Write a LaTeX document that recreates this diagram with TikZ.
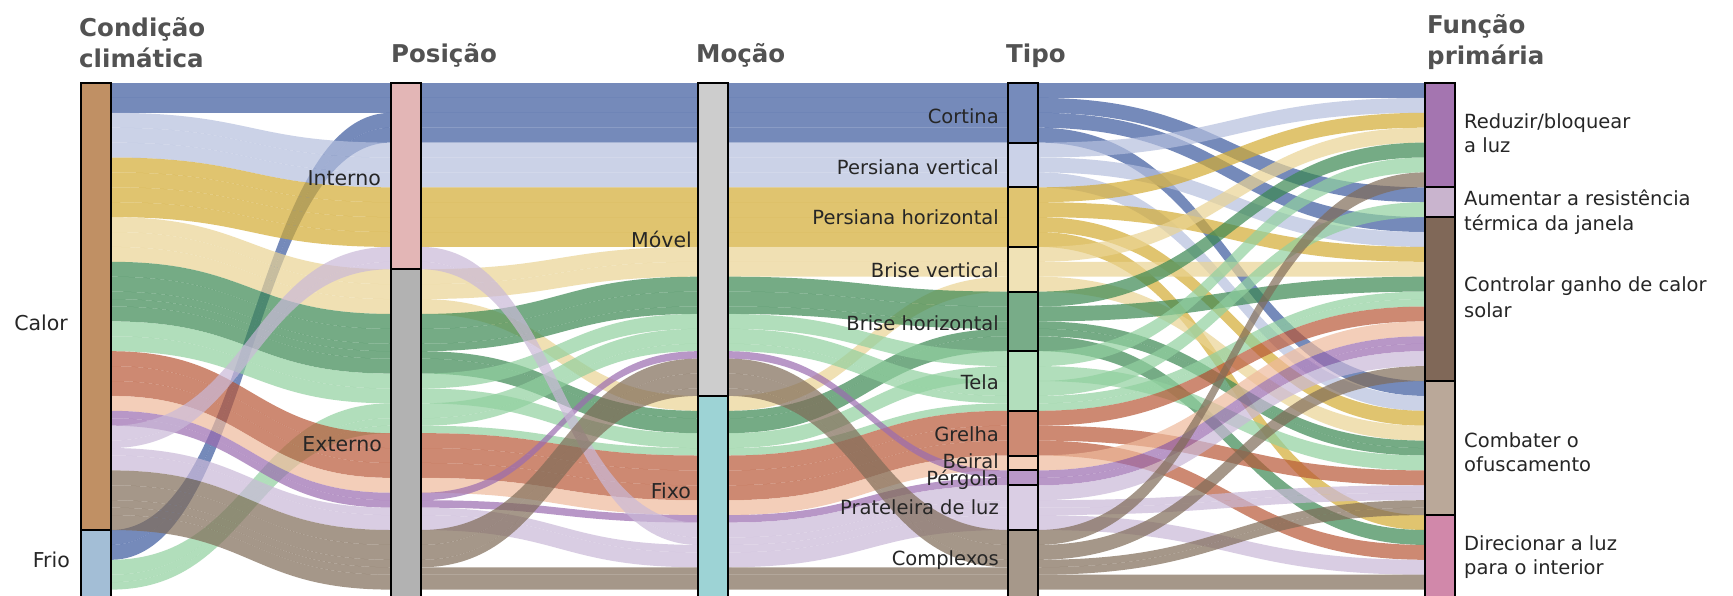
\documentclass[tikz,border=0pt]{standalone}
\usepackage{fontspec}
\setmainfont{DejaVu Sans}
% flow colours (drawn at opacity 0.7)
\definecolor{t1}{RGB}{59,89,158}
\definecolor{t2}{RGB}{181,191,222}
\definecolor{t3}{RGB}{211,171,51}
\definecolor{t4}{RGB}{234,212,148}
\definecolor{t5}{RGB}{59,136,82}
\definecolor{t6}{RGB}{145,208,159}
\definecolor{t7}{RGB}{184,88,55}
\definecolor{t8}{RGB}{239,186,156}
\definecolor{t9}{RGB}{155,108,176}
\definecolor{t10}{RGB}{202,185,216}
\definecolor{t11}{RGB}{128,108,88}
% bar colours
\definecolor{b1}{RGB}{118,139,187}
\definecolor{b2}{RGB}{203,210,232}
\definecolor{b3}{RGB}{224,196,112}
\definecolor{b4}{RGB}{240,226,182}
\definecolor{b5}{RGB}{120,172,136}
\definecolor{b6}{RGB}{178,222,188}
\definecolor{b7}{RGB}{205,138,115}
\definecolor{b8}{RGB}{244,207,186}
\definecolor{b9}{RGB}{185,152,200}
\definecolor{b10}{RGB}{218,206,228}
\definecolor{b11}{RGB}{166,152,138}
\definecolor{cCalor}{RGB}{192,144,100}
\definecolor{cFrio}{RGB}{163,190,214}
\definecolor{cInterno}{RGB}{227,182,182}
\definecolor{cExterno}{RGB}{178,178,178}
\definecolor{cMovel}{RGB}{205,205,205}
\definecolor{cFixo}{RGB}{157,211,213}
\definecolor{cReduzir}{RGB}{164,117,176}
\definecolor{cAumentar}{RGB}{201,180,206}
\definecolor{cControlar}{RGB}{128,104,88}
\definecolor{cCombater}{RGB}{186,168,153}
\definecolor{cDirecionar}{RGB}{209,136,170}
\definecolor{txt}{RGB}{38,38,38}
\definecolor{ttlc}{RGB}{82,82,82}

\newcommand\myU{14.9}
\newcommand\myT{83}
\newcommand\initoff[3]{\expandafter\xdef\csname off@#1@#2\endcsname{#3}}
\initoff{1}{1}{0}\initoff{1}{2}{30}
\initoff{2}{1}{0}\initoff{2}{2}{12.5}
\initoff{3}{1}{0}\initoff{3}{2}{21}
\initoff{4}{1}{0}\initoff{4}{2}{4}\initoff{4}{3}{7}\initoff{4}{4}{11}
\initoff{4}{5}{14}\initoff{4}{6}{18}\initoff{4}{7}{22}\initoff{4}{8}{25}
\initoff{4}{9}{26}\initoff{4}{10}{27}\initoff{4}{11}{30}
\initoff{5}{1}{0}\initoff{5}{2}{7}\initoff{5}{3}{9}\initoff{5}{4}{20}\initoff{5}{5}{29}

\newcommand\getpos[4]{%
  \edef\mycur{\csname off@#1@#2\endcsname}%
  \pgfmathsetmacro\mynew{\mycur+#3}%
  \expandafter\xdef\csname off@#1@#2\endcsname{\mynew}%
  \pgfmathsetmacro#4{\myT+\myU*\mycur}%
}
\newcommand\ribbon[6]{%
  \pgfmathsetmacro\myxm{(#1+#3)/2}%
  \pgfmathsetmacro\myyb{#2+#5}%
  \pgfmathsetmacro\myyd{#4+#5}%
  \fill[flow, fill=#6] (#1,#2) .. controls (\myxm,#2) and (\myxm,#4) .. (#3,#4)
    -- (#3,\myyd) .. controls (\myxm,\myyd) and (\myxm,\myyb) .. (#1,\myyb) -- cycle;
}
\newcommand\rec[6]{%
  \getpos{1}{#2}{#1}\pya
  \getpos{2}{#3}{#1}\pyb
  \getpos{3}{#4}{#1}\pyc
  \getpos{4}{#5}{#1}\pyd
  \getpos{5}{#6}{#1}\pye
  \pgfmathsetmacro\myh{#1*\myU}%
  \ribbon{111}{\pya}{391}{\pyb}{\myh}{t#5}%
  \ribbon{421}{\pyb}{698}{\pyc}{\myh}{t#5}%
  \ribbon{728}{\pyc}{1008}{\pyd}{\myh}{t#5}%
  \ribbon{1038}{\pyd}{1425}{\pye}{\myh}{t#5}%
}
\newcommand\barnode[5]{%
  \node[bar, fill=#5, minimum height={#4*\myU*1pt}] (#1) at (#2,{\myT+#3*\myU}) {};%
}

\begin{document}
\begin{tikzpicture}[x=1pt,y=-1pt,
  flow/.style={fill opacity=0.7},
  bar/.style={draw=black, line width=2pt, inner sep=0pt, outer sep=0pt,
    minimum width=30pt, anchor=north west},
  lblA/.style={font=\fontsize{20.5}{24}\selectfont, text=txt, inner sep=0pt},
  lblB/.style={font=\fontsize{19.5}{24}\selectfont, text=txt, inner sep=0pt},
  ttl/.style={font=\bfseries\fontsize{24.5}{30}\selectfont, text=ttlc,
    inner sep=0pt, anchor=base west}]
\useasboundingbox (0,0) rectangle (1733,595);
\clip (0,0) rectangle (1733,595);
\fill[white] (0,0) rectangle (1733,595);

% records: weight, condicao, posicao, mocao, tipo, funcao
\rec{1}{1}{1}{1}{1}{1}
\rec{1}{1}{1}{1}{1}{2}
\rec{1}{2}{1}{1}{1}{3}
\rec{1}{2}{1}{1}{1}{4}
\rec{1}{1}{1}{1}{2}{1}
\rec{1}{1}{1}{1}{2}{3}
\rec{1}{1}{1}{1}{2}{4}
\rec{1}{1}{1}{1}{3}{1}
\rec{1}{1}{1}{1}{3}{3}
\rec{1}{1}{1}{1}{3}{4}
\rec{1}{1}{1}{1}{3}{5}
\rec{1}{1}{2}{1}{4}{1}
\rec{1}{1}{2}{1}{4}{3}
\rec{1}{1}{2}{2}{4}{4}
\rec{1}{1}{2}{1}{5}{1}
\rec{1}{1}{2}{1}{5}{3}
\rec{.5}{1}{2}{1}{5}{4}
\rec{.5}{1}{2}{2}{5}{4}
\rec{1}{1}{2}{2}{5}{5}
\rec{1}{1}{2}{1}{6}{1}
\rec{1}{1}{2}{2}{6}{4}
\rec{1}{2}{2}{1}{6}{2}
\rec{.5}{2}{2}{1}{6}{3}
\rec{.5}{2}{2}{2}{6}{3}
\rec{1}{1}{2}{2}{7}{3}
\rec{1}{1}{2}{2}{7}{4}
\rec{1}{1}{2}{2}{7}{5}
\rec{1}{1}{2}{2}{8}{3}
\rec{.5}{1}{2}{1}{9}{3}
\rec{.5}{1}{2}{2}{9}{3}
\rec{1}{1}{1}{2}{10}{3}
\rec{.5}{1}{1}{2}{10}{4}
\rec{.5}{1}{2}{2}{10}{4}
\rec{1}{1}{2}{2}{10}{5}
\rec{1}{1}{2}{1}{11}{1}
\rec{1}{1}{2}{1}{11}{3}
\rec{.5}{1}{2}{1}{11}{4}
\rec{.5}{1}{2}{2}{11}{4}
\rec{1}{1}{2}{2}{11}{5}

% bars
\barnode{calor}{81}{0}{30}{cCalor}
\barnode{frio}{81}{30}{5}{cFrio}
\barnode{interno}{391}{0}{12.5}{cInterno}
\barnode{externo}{391}{12.5}{22.5}{cExterno}
\barnode{movel}{698}{0}{21}{cMovel}
\barnode{fixo}{698}{21}{14}{cFixo}
\barnode{cortina}{1008}{0}{4}{b1}
\barnode{pvert}{1008}{4}{3}{b2}
\barnode{phor}{1008}{7}{4}{b3}
\barnode{bvert}{1008}{11}{3}{b4}
\barnode{bhor}{1008}{14}{4}{b5}
\barnode{tela}{1008}{18}{4}{b6}
\barnode{grelha}{1008}{22}{3}{b7}
\barnode{beiral}{1008}{25}{1}{b8}
\barnode{pergola}{1008}{26}{1}{b9}
\barnode{prat}{1008}{27}{3}{b10}
\barnode{complexos}{1008}{30}{5}{b11}
\barnode{reduzir}{1425}{0}{7}{cReduzir}
\barnode{aumentar}{1425}{7}{2}{cAumentar}
\barnode{controlar}{1425}{9}{11}{cControlar}
\barnode{combater}{1425}{20}{9}{cCombater}
\barnode{direcionar}{1425}{29}{6}{cDirecionar}

% titles
\node[ttl] (h1a) at (79,36) {Condição};
\node[ttl] (h1b) at (79,67) {climática};
\node[ttl] (h2) at (391,62) {Posição};
\node[ttl] (h3) at (696,62) {Moção};
\node[ttl] (h4) at (1006,62) {Tipo};
\node[ttl] (h5a) at (1427,33) {Função};
\node[ttl] (h5b) at (1427,64) {primária};

% category labels
\node[lblA, anchor=base east] (lcalor) at (68,330) {Calor};
\node[lblA, anchor=base east] (lfrio) at (70,567) {Frio};
\node[lblA, anchor=base east] (linterno) at (381,185) {Interno};
\node[lblA, anchor=base east] (lexterno) at (382,451) {Externo};
\node[lblA, anchor=base east] (lmovel) at (692,247) {Móvel};
\node[lblA, anchor=base east] (lfixo) at (691,498) {Fixo};

\node[lblB, anchor=base east] (lcortina) at (999,123) {Cortina};
\node[lblB, anchor=base east] (lpvert) at (999,174) {Persiana vertical};
\node[lblB, anchor=base east] (lphor) at (999,224) {Persiana horizontal};
\node[lblB, anchor=base east] (lbvert) at (999,277) {Brise vertical};
\node[lblB, anchor=base east] (lbhor) at (999,330) {Brise horizontal};
\node[lblB, anchor=base east] (ltela) at (999,389) {Tela};
\node[lblB, anchor=base east] (lgrelha) at (999,441) {Grelha};
\node[lblB, anchor=base east] (lbeiral) at (999,468) {Beiral};
\node[lblB, anchor=base east] (lpergola) at (999,485) {Pérgola};
\node[lblB, anchor=base east] (lprat) at (999,514) {Prateleira de luz};
\node[lblB, anchor=base east] (lcomplexos) at (999,565) {Complexos};

\node[lblB, anchor=base west] (lred1) at (1464,128) {Reduzir/bloquear};
\node[lblB, anchor=base west] (lred2) at (1464,152) {a luz};
\node[lblB, anchor=base west] (laum1) at (1464,205) {Aumentar a resistência};
\node[lblB, anchor=base west] (laum2) at (1464,230) {térmica da janela};
\node[lblB, anchor=base west] (lcon1) at (1464,291) {Controlar ganho de calor};
\node[lblB, anchor=base west] (lcon2) at (1464,317) {solar};
\node[lblB, anchor=base west] (lcom1) at (1464,447) {Combater o};
\node[lblB, anchor=base west] (lcom2) at (1464,471) {ofuscamento};
\node[lblB, anchor=base west] (ldir1) at (1464,550) {Direcionar a luz};
\node[lblB, anchor=base west] (ldir2) at (1464,574) {para o interior};
\end{tikzpicture}
\end{document}
